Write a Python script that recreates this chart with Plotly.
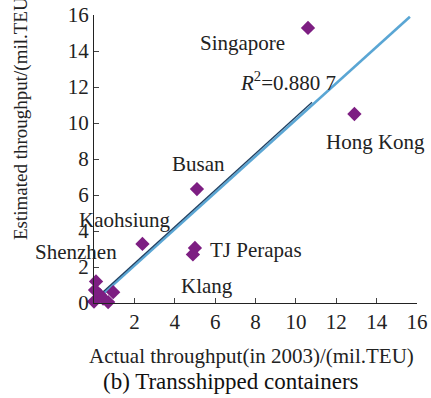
import plotly.graph_objects as go

# Data
actual = [10.6, 12.9, 5.1, 2.4, 5.0, 4.9, 0.1, 0.05, 0.3, 0.0, 0.45, 0.95, 0.7]
estimated = [15.28, 10.5, 6.33, 3.28, 3.06, 2.7, 1.2, 0.72, 0.44, 0.08, 0.25, 0.6, 0.05]

fit_x = [0.4, 15.65]
fit_y = [0.45, 15.9]
fit2_x = [0.4, 10.8]
fit2_y = [0.57, 11.15]

labels = ["Singapore", "Hong Kong", "Busan", "Kaohsiung", "TJ Perapas", "Klang"]
label_x = [7.38, 13.96, 5.2, 1.53, 5.64, 5.6]
label_y = [14.44, 8.94, 7.72, 4.61, 2.94, 0.94]
label_anchor = ["center", "center", "center", "center", "left", "center"]

xticks = [2, 4, 6, 8, 10, 12, 14, 16]
yticks = [0, 2, 4, 6, 8, 10, 12, 14, 16]

FONT = "Liberation Serif, Times New Roman, serif"
fs = 21
tfs = 21

fig = go.Figure()
fig.add_trace(go.Scatter(x=fit_x, y=fit_y, mode="lines",
                         line=dict(color="#5aa6d4", width=2.6), cliponaxis=False,
                         showlegend=False, hoverinfo="skip"))
fig.add_trace(go.Scatter(x=fit2_x, y=fit2_y, mode="lines",
                         line=dict(color="#1d3f62", width=1.3), cliponaxis=False,
                         showlegend=False, hoverinfo="skip"))
fig.add_trace(go.Scatter(x=actual, y=estimated, mode="markers",
                         marker=dict(symbol="diamond", size=11, color="#7d1e82"),
                         cliponaxis=False, showlegend=False))

for t, x, y, a in zip(labels, label_x, label_y, label_anchor):
    fig.add_annotation(x=x, y=y, text=t, showarrow=False, xanchor=a,
                       font=dict(family=FONT, size=fs, color="#222"))

# Shenzhen label sits left of the y axis
fig.add_annotation(xref="paper", x=-0.056, y=2.85, xanchor="center", text="Shenzhen",
                   showarrow=False, font=dict(family=FONT, size=fs, color="#222"))

fig.add_annotation(x=9.6, y=12.28, text="<i>R</i><sup>2</sup>=0.880 7", showarrow=False,
                   font=dict(family=FONT, size=fs, color="#222"))

# axis titles and caption
fig.add_annotation(xref="paper", yref="paper", x=0.489, y=-0.184, xanchor="center",
                   yanchor="middle",
                   text="Actual throughput(in 2003)/(mil.TEU)", showarrow=False,
                   font=dict(family=FONT, size=fs, color="#222"))
fig.add_annotation(xref="paper", yref="paper", x=0.424, y=-0.271, xanchor="center",
                   yanchor="middle",
                   text="(b) Transshipped containers", showarrow=False,
                   font=dict(family=FONT, size=23, color="#111"))
fig.add_annotation(xref="paper", yref="paper", x=-0.226, y=0.649, xanchor="center",
                   yanchor="middle",
                   text="Estimated throughput/(mil.TEU)", textangle=-90, showarrow=False,
                   font=dict(family=FONT, size=19, color="#222"))

fig.update_xaxes(range=[0, 16], tickvals=xticks, ticks="inside", ticklen=5,
                 showline=True, linecolor="#222", linewidth=1, showgrid=False,
                 zeroline=False, automargin=False,
                 tickfont=dict(family=FONT, size=tfs, color="#222"))
fig.update_yaxes(range=[0, 16], tickvals=yticks, ticks="inside", ticklen=5,
                 showline=True, linecolor="#222", linewidth=1, showgrid=False,
                 zeroline=False, automargin=False,
                 tickfont=dict(family=FONT, size=tfs, color="#222"))

fig.update_layout(width=431, height=398, margin=dict(l=94, r=14, t=15, b=95),
                  plot_bgcolor="white", paper_bgcolor="white", showlegend=False)

fig.write_html("out.html", config={"displayModeBar": False},
               post_script="document.body.style.margin='0';document.body.style.padding='0';")
